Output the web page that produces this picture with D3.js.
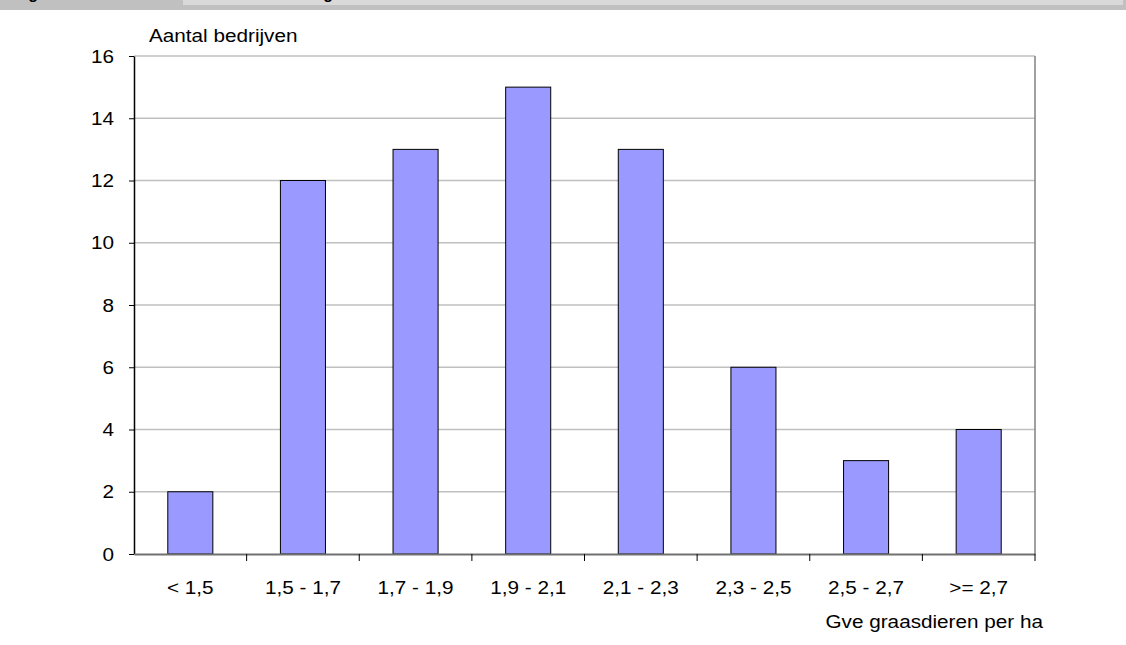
<!DOCTYPE html>
<html>
<head>
<meta charset="utf-8">
<script src="https://cdn.jsdelivr.net/npm/d3@7"></script>
<style>
    body { margin: 0; background: #fff; }
    svg { display: block; font-family: Arial, "Liberation Sans", sans-serif; }
</style>
</head>
<body>
<svg id="chart" width="1126" height="645"></svg>
<script>
var CATEGORIES = ['< 1,5', '1,5 - 1,7', '1,7 - 1,9', '1,9 - 2,1', '2,1 - 2,3', '2,3 - 2,5', '2,5 - 2,7', '>= 2,7'];
var COUNTS = [2, 12, 13, 15, 13, 6, 3, 4];
var Y_TICKS = [0, 2, 4, 6, 8, 10, 12, 14, 16];
var Y_LABEL = 'Aantal bedrijven';
var X_LABEL = 'Gve graasdieren per ha';

const margin = { top: 56, right: 91, bottom: 91, left: 134 },
    width = 1126,
    height = 645;
const stretch = 'scale(1.12,1)'; // the original text is a bit wide
const fontSize = 18.5;

const svg = d3.select('#chart');

// header strip at the top (mostly cut off in the picture)
svg.append('rect').attr('x', 0).attr('y', 0).attr('width', width).attr('height', 10).attr('fill', '#c0c0c0');
svg.append('rect').attr('x', 183).attr('y', 0).attr('width', 940).attr('height', 5).attr('fill', '#d9d9d9');
svg.append('text').attr('x', 14).attr('y', -1).attr('font-size', 16).attr('font-weight', 'bold').text('Figuur');
svg.append('text').attr('x', 333).attr('y', -1).attr('text-anchor', 'end')
    .attr('font-size', 16).attr('font-weight', 'bold').text('Veebezetting');

const x = d3
    .scaleBand()
    .domain(CATEGORIES)
    .range([margin.left, width - margin.right])
    .padding(0);
const y = d3
    .scaleLinear()
    .domain([0, 16])
    .range([height - margin.bottom, margin.top]);

// grid lines
svg
    .append('g')
    .attr('stroke', '#c0c0c0')
    .attr('stroke-width', 1.5)
    .selectAll('line')
    .data(Y_TICKS.filter((d) => d > 0))
    .join('line')
    .attr('x1', margin.left)
    .attr('x2', width - margin.right)
    .attr('y1', (d) => y(d))
    .attr('y2', (d) => y(d));

// right border of plot area
svg
    .append('line')
    .attr('x1', width - margin.right)
    .attr('x2', width - margin.right)
    .attr('y1', y(16))
    .attr('y2', y(0))
    .attr('stroke', '#808080')
    .attr('stroke-width', 1.5);

// bars
const barW = x.bandwidth() * 0.4;
svg
    .append('g')
    .attr('fill', '#9999ff')
    .attr('stroke', '#000')
    .attr('stroke-width', 1)
    .selectAll('rect')
    .data(COUNTS)
    .join('rect')
    .attr('x', (d, i) => x(CATEGORIES[i]) + (x.bandwidth() - barW) / 2)
    .attr('y', (d) => y(d))
    .attr('width', barW)
    .attr('height', (d) => y(0) - y(d));

// y axis
svg
    .append('g')
    .attr('transform', `translate(${margin.left},0)`)
    .call(d3.axisLeft(y).tickValues(Y_TICKS).tickSize(5).tickSizeOuter(0))
    .call((g) => g.select('.domain').attr('stroke', '#000').attr('stroke-width', 1.5))
    .call((g) => g.selectAll('.tick line').attr('stroke', '#000'))
    .call((g) =>
        g
            .selectAll('.tick text')
            .attr('x', null)
            .attr('dy', null)
            .attr('transform', `translate(-20,6) ${stretch}`)
            .attr('text-anchor', 'end')
            .attr('font-size', fontSize)
            .attr('font-family', null)
            .attr('fill', '#000')
    );

// x axis
svg
    .append('g')
    .attr('transform', `translate(0,${y(0)})`)
    .call(d3.axisBottom(x).tickSize(0).tickSizeOuter(0))
    .call((g) => g.select('.domain').attr('stroke', '#707070').attr('stroke-width', 2))
    .call((g) =>
        g
            .selectAll('.tick text')
            .attr('y', null)
            .attr('dy', null)
            .attr('transform', `translate(0,40) ${stretch}`)
            .attr('font-size', fontSize)
            .attr('font-family', null)
            .attr('fill', '#000')
    );

// category boundary ticks
svg
    .append('g')
    .attr('stroke', '#000')
    .selectAll('line')
    .data(CATEGORIES.slice(1).concat([null]))
    .join('line')
    .attr('x1', (d) => (d ? x(d) : x.range()[1]))
    .attr('x2', (d) => (d ? x(d) : x.range()[1]))
    .attr('y1', y(0))
    .attr('y2', y(0) + 7);

// axis titles
svg
    .append('text')
    .attr('transform', `translate(149,42) ${stretch}`)
    .attr('font-size', fontSize)
    .text(Y_LABEL);
svg
    .append('text')
    .attr('transform', `translate(1043,628) ${stretch}`)
    .attr('text-anchor', 'end')
    .attr('font-size', fontSize)
    .text(X_LABEL);
</script>
</body>
</html>
